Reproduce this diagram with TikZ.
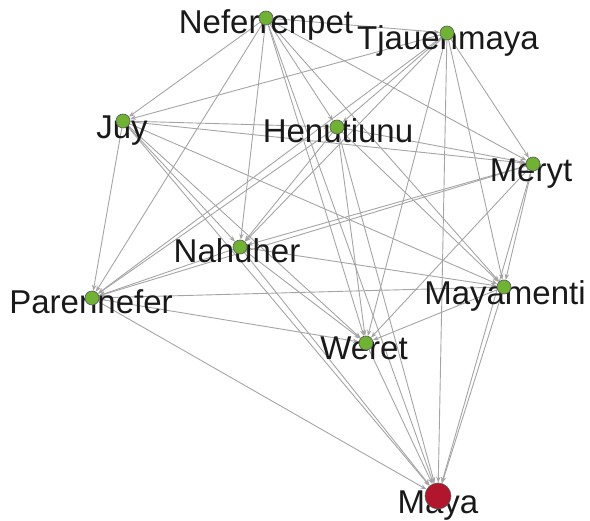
\documentclass[tikz,border=0pt]{standalone}
\usepackage{fontspec}
\setmainfont{Liberation Sans}
\usetikzlibrary{arrows.meta}
\pgfdeclarelayer{bg}
\pgfdeclarelayer{mid}
\pgfsetlayers{bg,mid,main}
\definecolor{nodegreen}{RGB}{112,178,52}
\definecolor{nodered}{RGB}{178,22,44}
\definecolor{edgegray}{RGB}{165,165,165}
\definecolor{labelcol}{RGB}{25,25,25}
\begin{document}
\begin{tikzpicture}[x=1pt,y=-1pt,
  vtx/.style={circle,draw=black!65,line width=0.6pt,fill=nodegreen,minimum size=14pt,inner sep=0pt},
  sink/.style={vtx,fill=nodered,minimum size=26pt},
  lbl/.style={anchor=base,text=labelcol,font=\fontsize{33}{36}\selectfont,inner sep=0pt},
  link/.style={draw=edgegray,line width=0.9pt,-{Stealth[length=6pt,width=4.5pt]}}]
\useasboundingbox (0,0) rectangle (590,521);
% vertices
\node[vtx] (nef) at (266,18) {};
\node[vtx] (tja) at (447,33) {};
\node[vtx] (juy) at (123,121) {};
\node[vtx] (hen) at (337,127) {};
\node[vtx] (mer) at (533,164) {};
\node[vtx] (nah) at (240,247) {};
\node[vtx] (mym) at (504,287) {};
\node[vtx] (par) at (92,298) {};
\node[vtx] (wer) at (366,343) {};
\node[sink] (maya) at (438,496) {};
% labels
\begin{pgfonlayer}{mid}
\node[lbl] (nefL) at (266,34) {Neferrenpet};
\node[lbl] (tjaL) at (448,50) {Tjauenmaya};
\node[lbl] (juyL) at (122,139) {Juy};
\node[lbl] (henL) at (338,143) {Henutiunu};
\node[lbl] (merL) at (531,182) {Meryt};
\node[lbl] (nahL) at (237,263) {Nahuher};
\node[lbl] (mymL) at (505,305) {Mayamenti};
\node[lbl] (parL) at (91,314) {Parennefer};
\node[lbl] (werL) at (364,360) {Weret};
\node[lbl] (mayaL) at (438,514) {Maya};
\end{pgfonlayer}
% connectors
\begin{pgfonlayer}{bg}
\foreach \s/\t in {nef/tja,nef/juy,nef/hen,nef/mer,nef/nah,nef/par,nef/mym,nef/wer,nef/maya,
  tja/juy,tja/hen,tja/mer,tja/nah,tja/par,tja/mym,tja/wer,tja/maya,
  juy/hen,juy/mer,juy/nah,juy/par,juy/mym,juy/wer,juy/maya,
  hen/mer,hen/nah,hen/par,hen/mym,hen/wer,hen/maya,
  mer/nah,mer/par,mer/mym,mer/wer,mer/maya,
  nah/par,nah/mym,nah/wer,nah/maya,
  mym/wer,mym/maya,mym/par,
  par/wer,par/maya,
  wer/maya}
  \draw[link] (\s) -- (\t);
\end{pgfonlayer}
\end{tikzpicture}
\end{document}
